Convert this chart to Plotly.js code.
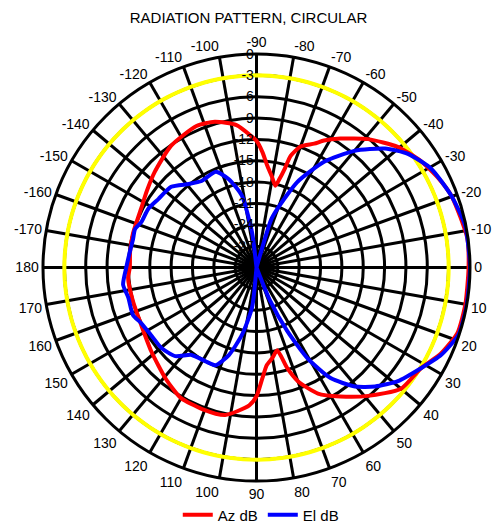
<!DOCTYPE html>
<html><head><meta charset="utf-8">
<script src="https://cdn.plot.ly/plotly-3.0.1.min.js"></script>
<style>html,body{margin:0;padding:0;background:#fff}</style>
</head><body><div id="chart" style="width:497px;height:525px"></div>
<script>
// Azimuth pattern (red), angle in degrees (clockwise from 0 at right), level in dB
const azAngles = [-180,-173,-165,-153,-145,-137,-125,-113,-106,-98,-92,-90,-87,-84,-80.5,-77,-75.5,-74,-73,-70,-65,-62,-57,-49,-40.5,-33,-26,-20,-8,0,10,18,25,31.5,40,49,57,64,70,73,76,80,84,87,90,93,102,111,120,129,141.5,153.5,165,175.5,180];
const azDb = [-12.2,-12.1,-12.0,-11.8,-11.2,-10.4,-9.1,-8.4,-8.7,-9.8,-11.6,-12.2,-13.8,-15.6,-17.0,-18.2,-17.2,-15.5,-13.6,-11.9,-10.8,-9.8,-8.4,-6.1,-3.9,-2.5,-1.5,-0.8,-0.1,-0.2,-0.2,-0.3,-1.4,-2.9,-3.5,-6.1,-8.4,-10.3,-13.0,-15.2,-18.0,-17.1,-16.2,-14.4,-11.9,-10.6,-8.8,-8.7,-8.8,-9.8,-11.1,-11.9,-12.0,-11.9,-12.2];

// Elevation pattern (blue)
const elAngles = [-180,-172,-167,-162.5,-158.5,-151.6,-145,-136.6,-129,-122.4,-113,-107.4,-101.5,-97.3,-95,-76,-73,-70.5,-64.5,-57.3,-50,-42.8,-36.9,-29.5,-20,-11.2,0,10.8,18.5,25.4,31.5,38.8,45.1,50.4,56.2,60.7,64.2,67.8,70,95,96.4,102.2,107.5,112.7,118.5,126.6,132.5,139.7,147.3,154.3,159,166.8,172.7,180];
const elDb = [-11.7,-12.1,-12.2,-12.1,-12.6,-12.7,-13.2,-13.5,-14.9,-15.6,-15.4,-17.0,-19.7,-25.0,-30,-30,-23.0,-21.3,-16.7,-12.3,-8.6,-5.4,-3.4,-1.8,-0.8,-0.1,0,0,-0.1,-1.3,-2.9,-4.5,-6.4,-8.3,-11.3,-15.4,-20.1,-25.0,-30,-30,-24.3,-20.3,-17.1,-15.1,-15.0,-14.7,-13.1,-12.5,-12.4,-12.0,-11.4,-11.5,-11.1,-11.7];

// Reference ring level (yellow)
const refLevel = -3;

// Axis ticks
const angleTickVals = [0,10,20,30,40,50,60,70,80,90,100,110,120,130,140,150,160,170,180,190,200,210,220,230,240,250,260,270,280,290,300,310,320,330,340,350];
const angleTickText = ["0","10","20","30","40","50","60","70","80","90","100","110","120","130","140","150","160","170","180","-170","-160","-150","-140","-130","-120","-110","-100","-90","-80","-70","-60","-50","-40","-30","-20","-10"];
const radialTickVals = [0,-3,-6,-9,-12,-15,-18,-21,-24,-27];
const radialTickText = ["0","-3","-6","-9","-12","-15","-18","-21","-24","-27"];

const ringTheta = [];
const ringR = [];
for (let a = 0; a <= 360; a += 2) { ringTheta.push(a); ringR.push(refLevel); }

const font = "Liberation Sans, Arial, sans-serif";

const traces = [
  {type:'scatterpolar', mode:'lines', theta:ringTheta, r:ringR, showlegend:false, hoverinfo:'skip',
   line:{color:'#ffff00', width:4}, cliponaxis:false},
  {type:'scatterpolar', mode:'lines', theta:azAngles, r:azDb, name:'Az dB',
   line:{color:'#ff0000', width:4, shape:'spline', smoothing:0.6}, cliponaxis:false},
  {type:'scatterpolar', mode:'lines', theta:elAngles, r:elDb, name:'El dB',
   line:{color:'#0000ff', width:4, shape:'spline', smoothing:0.6}, cliponaxis:false}
];

const layout = {
  width:497, height:525,
  margin:{l:43, r:27, t:54, b:0, autoexpand:false},
  paper_bgcolor:'#fff',
  font:{family:font, size:14, color:'#000'},
  title:{text:'RADIATION PATTERN, CIRCULAR', x:0.5, xanchor:'center', yref:'container', y:0.966, yanchor:'middle',
         font:{family:font, size:15, color:'#000'}},
  showlegend:true,
  legend:{orientation:'h', x:0.51, xanchor:'center', y:0.021, yanchor:'middle',
          font:{family:font, size:15, color:'#000'}, itemwidth:30, tracegroupgap:0},
  polar:{
    bgcolor:'#fff',
    domain:{x:[0,1], y:[0.0934,1]},
    angularaxis:{direction:'clockwise', rotation:0, tickmode:'array', tickvals:angleTickVals, ticktext:angleTickText,
      showgrid:true, gridcolor:'#000', gridwidth:3, showline:true, linecolor:'#000', linewidth:3,
      ticks:'', tickfont:{family:font, size:14, color:'#000'}},
    radialaxis:{range:[-30,0], angle:90, tickangle:90, tickmode:'array', tickvals:radialTickVals, ticktext:radialTickText,
      showgrid:true, gridcolor:'#000', gridwidth:3, showline:false, ticks:'', side:'counterclockwise',
      tickfont:{family:font, size:14, color:'#000'}}
  }
};

Plotly.newPlot('chart', traces, layout, {displayModeBar:false, staticPlot:true});
</script>
</body></html>
